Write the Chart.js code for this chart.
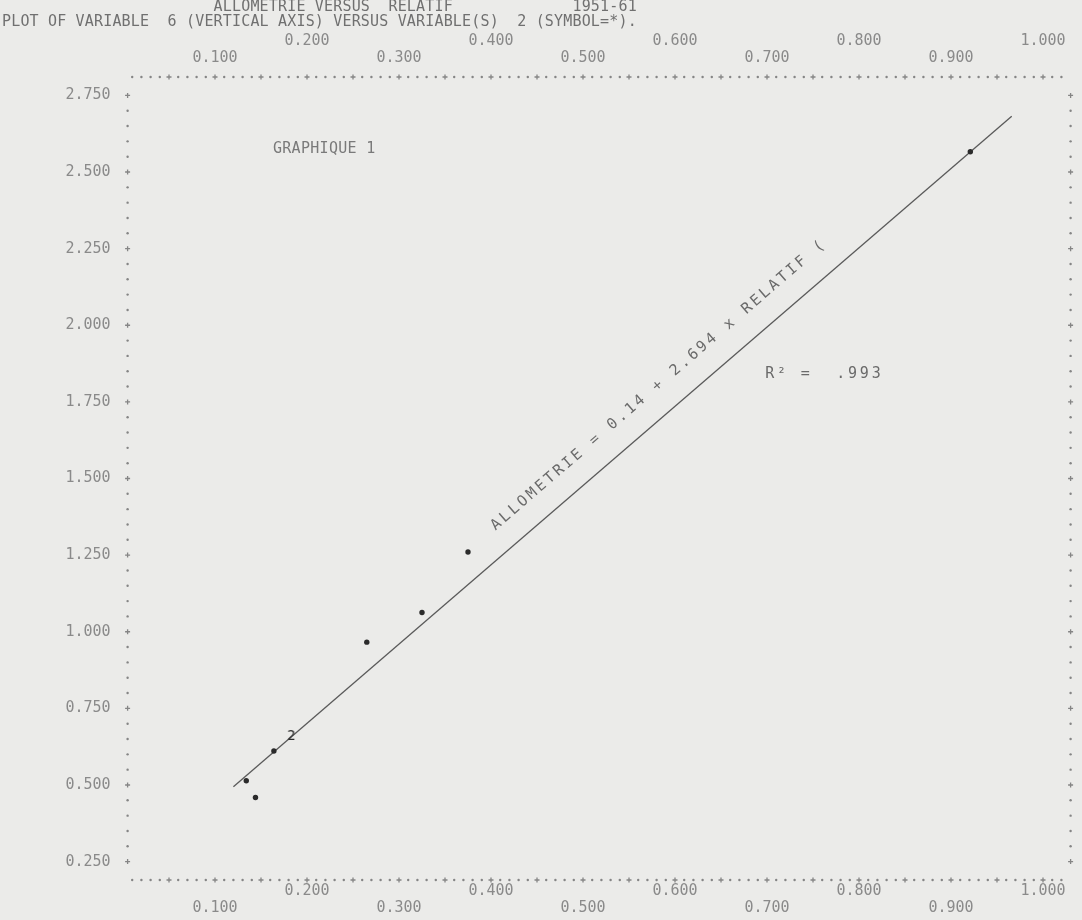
<!DOCTYPE html>
<html>
<head>
<meta charset="utf-8">
<title>Allometrie versus relatif 1951-61</title>
<script src="https://cdn.jsdelivr.net/npm/chart.js@4.4.1/dist/chart.umd.min.js"></script>
<style>
  html, body { margin: 0; padding: 0; background: #ebebe9; }
  canvas { display: block; }
</style>
</head>
<body>
<canvas id="plot" width="1082" height="920"></canvas>
<script>
// Observations (RELATIF across, ALLOMETRIE up)
const relatif    = [0.134, 0.144, 0.164, 0.265, 0.325, 0.375, 0.921];
const allometrie = [0.514, 0.459, 0.611, 0.966, 1.063, 1.260, 2.566];
// the "2" symbol: two observations printed on the same spot
const relatifDouble    = [0.183];
const allometrieDouble = [0.660];
// the hand-drawn fit line, its two ends
const fitX = [0.120, 0.966];
const fitY = [0.494, 2.682];

const xTicks = [0.1, 0.2, 0.3, 0.4, 0.5, 0.6, 0.7, 0.8, 0.9, 1.0];
const yTicks = [0.25, 0.5, 0.75, 1.0, 1.25, 1.5, 1.75, 2.0, 2.25, 2.5, 2.75];

const titleLine1 = ' '.repeat(23) + 'ALLOMETRIE VERSUS  RELATIF' + ' '.repeat(13) + '1951-61';
const titleLine2 = 'PLOT OF VARIABLE  6 (VERTICAL AXIS) VERSUS VARIABLE(S)  2 (SYMBOL=*).';
const graphLabel = 'GRAPHIQUE 1';
const equation = 'ALLOMETRIE = 0.14 + 2.694 x RELATIF (';
const rSquared = 'R\u00b2 =  .993';

const MONO = '"DejaVu Sans Mono", "Liberation Mono", monospace';
const fmt = v => v.toFixed(3);

// glyph used by the printer for a double point
const two = document.createElement('canvas');
two.width = 12; two.height = 16;
const tc = two.getContext('2d');
tc.font = '14px ' + MONO;
tc.fillStyle = '#2e2e2e';
tc.textAlign = 'center';
tc.textBaseline = 'middle';
tc.fillText('2', 6, 8);

// dotted line-printer frame and the typed texts
const printout = {
    id: 'printout',
    beforeDatasetsDraw(chart) {
        const { ctx, chartArea: a, scales: { x, y } } = chart;
        ctx.save();
        ctx.fillStyle = '#858585';
        ctx.strokeStyle = '#858585';
        ctx.lineWidth = 1.3;
        const dot = (px, py) => { ctx.beginPath(); ctx.arc(px, py, 1.2, 0, Math.PI * 2); ctx.fill(); };
        const plus = (px, py) => {
            ctx.beginPath();
            ctx.moveTo(px - 2.5, py); ctx.lineTo(px + 2.5, py);
            ctx.moveTo(px, py - 2.5); ctx.lineTo(px, py + 2.5);
            ctx.stroke();
        };
        // one printed character every 0.01 across, a "+" every 0.05
        for (let k = 1; k <= 102; k++) {
            const px = x.getPixelForValue(k / 100);
            const mark = k % 5 === 0 ? plus : dot;
            mark(px, a.top);
            mark(px, a.bottom);
        }
        // one printed line every 0.05 up, a "+" every 0.25
        for (let k = 5; k <= 55; k++) {
            const py = y.getPixelForValue(k / 20);
            const mark = k % 5 === 0 ? plus : dot;
            mark(a.left, py);
            mark(a.right, py);
        }
        ctx.restore();
    },
    afterDraw(chart) {
        const { ctx, scales: { x, y } } = chart;
        ctx.save();
        ctx.textBaseline = 'middle';
        ctx.font = '15px ' + MONO;
        ctx.letterSpacing = '0.17px';
        ctx.fillStyle = '#707070';
        ctx.fillText(titleLine1, 2, 7);
        ctx.fillText(titleLine2, 2, 22);

        ctx.letterSpacing = '0.3px';
        ctx.fillStyle = '#7a7a7a';
        ctx.fillText(graphLabel, x.getPixelForValue(0.163), y.getPixelForValue(2.575));

        ctx.letterSpacing = '2.8px';
        ctx.fillStyle = '#6a6a6a';
        ctx.fillText(rSquared, x.getPixelForValue(0.698), y.getPixelForValue(1.842));

        // equation written along the fitted line
        const x0 = x.getPixelForValue(fitX[0]), y0 = y.getPixelForValue(fitY[0]);
        const x1 = x.getPixelForValue(fitX[1]), y1 = y.getPixelForValue(fitY[1]);
        const ang = Math.atan2(y1 - y0, x1 - x0);
        const t = 0.356;
        const gap = 23;
        const bx = x0 + (x1 - x0) * t + Math.sin(ang) * gap;
        const by = y0 + (y1 - y0) * t - Math.cos(ang) * gap;
        ctx.translate(bx, by);
        ctx.rotate(ang);
        ctx.textBaseline = 'alphabetic';
        ctx.fillText(equation, 0, 0);
        ctx.restore();
    }
};

const tickFont = { family: MONO, size: 15, lineHeight: 17 / 15 };

new Chart(document.getElementById('plot'), {
    type: 'scatter',
    data: {
        datasets: [{
            label: 'observations',
            data: relatif.map((v, i) => ({ x: v, y: allometrie[i] })),
            pointRadius: 2.7,
            pointBackgroundColor: '#2b2b2b',
            pointBorderWidth: 0
        }, {
            label: 'double',
            data: relatifDouble.map((v, i) => ({ x: v, y: allometrieDouble[i] })),
            pointStyle: two,
            pointRadius: 6
        }, {
            type: 'line',
            label: 'fit',
            data: fitX.map((v, i) => ({ x: v, y: fitY[i] })),
            borderColor: '#5a5a5a',
            borderWidth: 1.3,
            pointRadius: 0,
            tension: 0
        }]
    },
    options: {
        responsive: false,
        animation: false,
        layout: { padding: { left: 0, right: 11.4, top: 0, bottom: 0 } },
        plugins: { legend: { display: false }, tooltip: { enabled: false } },
        scales: {
            x: {
                type: 'linear',
                position: 'bottom',
                min: 0.005,
                max: 1.03,
                afterBuildTicks: s => { s.ticks = xTicks.map(v => ({ value: v })); },
                afterFit: s => { s.height = 40; },
                grid: { display: false, drawTicks: false },
                border: { display: false },
                ticks: {
                    autoSkip: false, maxRotation: 0, padding: 2.5,
                    color: '#8a8a8a', font: tickFont,
                    callback: (v, i) => i % 2 === 0 ? ['', fmt(v)] : fmt(v)
                }
            },
            x2: {
                type: 'linear',
                axis: 'x',
                position: 'top',
                min: 0.005,
                max: 1.03,
                afterBuildTicks: s => { s.ticks = xTicks.map(v => ({ value: v })); },
                afterFit: s => { s.height = 77; },
                grid: { display: false, drawTicks: false },
                border: { display: false },
                ticks: {
                    autoSkip: false, maxRotation: 0, padding: 10.5,
                    color: '#8a8a8a', font: tickFont,
                    callback: (v, i) => i % 2 === 0 ? fmt(v) : [fmt(v), '']
                }
            },
            y: {
                type: 'linear',
                position: 'left',
                min: 0.19,
                max: 2.81,
                afterBuildTicks: s => { s.ticks = yTicks.map(v => ({ value: v })); },
                afterFit: s => { s.width = 127.6; },
                grid: { display: false, drawTicks: false },
                border: { display: false },
                ticks: {
                    autoSkip: false, padding: 17,
                    color: '#8a8a8a', font: tickFont,
                    callback: v => fmt(v)
                }
            }
        }
    },
    plugins: [printout]
});
</script>
</body>
</html>
